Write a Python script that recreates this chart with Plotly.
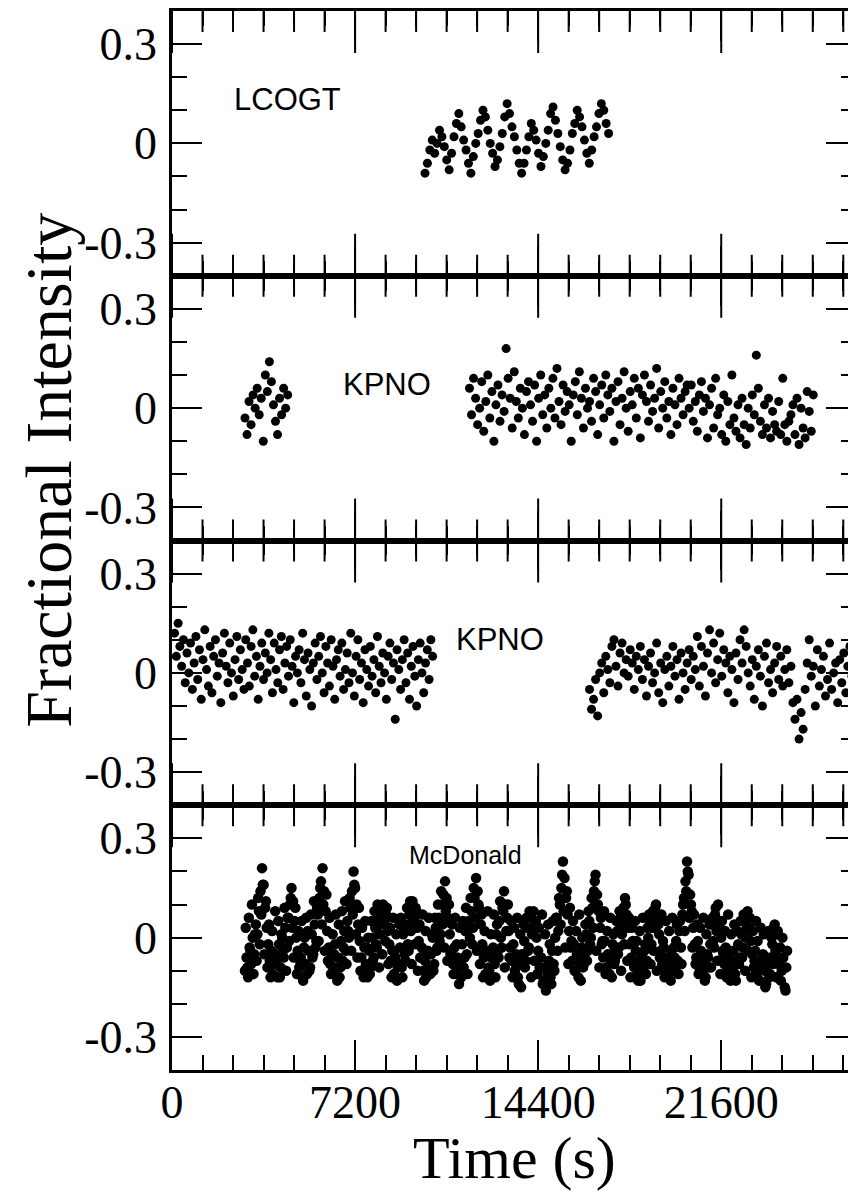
import plotly.graph_objects as go
from plotly.subplots import make_subplots

# ---------------- data (fractional intensity in units of 0.01) ----------------
panel_labels = ["LCOGT", "KPNO", "KPNO", "McDonald"]

# LCOGT run
lcogt_start = 9950
lcogt_cadence = 95
lcogt_vals = [-9, -6, -2, 1, -3, 0, 4, 2, -1, -5, -8, -3, 2, 6, 9, 5, 1, -2, -6, -9,
              -4, 0, 3, 7, 10, 8, 4, 0, -3, -7, -5, -1, 3, 8, 12, 9, 5, 2, -2, -6,
              -9, -6, -2, 2, 6, 4, 1, -3, -7, -4, 0, 4, 9, 11, 7, 3, -1, -5, -8, -6,
              -2, 3, 6, 10, 8, 5, 1, -3, -6, -2, 2, 5, 9, 12, 10, 6, 3]

# KPNO night 1 (two runs)
kpno1a_start = 2870
kpno1a_cadence = 80
kpno1a_vals = [-3, -8, 2, -5, 4, 0, 6, -2, 3, -10, 10, 5, 14, 8, 1, -4, -8, 3, -2, 6, 0, 4]

kpno1b_start = 11700
kpno1b_cadence = 80
kpno1b_vals = [6, -2, 9, 3, -5, 0, 8, -7, 2, 10,
               -3, 5, -10, 1, 7, -4, 4, -1, 18, 9,
               3, -6, 11, 2, -3, 6, 0, -8, 5, 8,
               1, -4, 7, -10, 3, 10, -2, 4, -6, 6,
               0, 9, -3, 12, 2, -5, 7, -1, 5, 1,
               -10, 4, 8, -2, 11, 3, -6, 6, 0, 2,
               -4, 9, 5, -8, 1, 7, -3, 10, 4, -1,
               6, -10, 2, 8, -5, 3, 11, 0, -7, 5,
               1, 9, -3, 6, -9, 4, 10, 2, -4, 7,
               -1, 3, 12, -6, 5, 0, 8, -3, 2, -8,
               6, 1, -5, 9, 3, -2, 5, 7, 0, 7,
               -4, 2, -7, 4, 8, -1, 3, -9, 1, 6,
               -6, 9, -2, 0, -8, 4, -10, 2, -5, 10,
               -3, -7, 1, -9, 3, -5, -11, 0, -6, 4,
               -2, 16, 6, -4, -8, 1, -6, 3, -9, -1,
               -5, -7, 2, -8, 9, -5, -10, -4, -2, 1,
               -8, 3, -11, 0, -6, -9, 5, -1, -7, 4]

# KPNO night 2 (two runs)
kpno2a_start = 100
kpno2a_cadence = 70
kpno2a_vals = [12, 5, 15, 8, 2, 10, -3, 6, 0, 9,
               -5, 3, 11, -2, 7, -8, 4, 13, 1, -4,
               8, -6, 5, 10, -1, 3, -9, 6, 12, 2,
               -3, 9, 0, -7, 4, 11, -2, 7, 1, -5,
               10, 3, -4, 8, 13, -1, 5, -8, 2, 9,
               -2, 6, 0, 12, 4, -6, 9, 1, -3, 7,
               11, -5, 3, 8, -1, 10, 2, -9, 5, 0,
               7, -3, 12, 4, -7, 6, 1, -10, 3, 9,
               -2, 5, 11, 0, -6, 8, 3, -4, 10, 2,
               -8, 4, 7, -1, 9, -5, 1, 6, -3, 12,
               0, -7, 5, 10, -2, 3, -9, 7, 1, -4,
               8, -1, 4, -6, 11, 2, -3, 6, 0, -8,
               5, 9, -2, 3, -14, 7, 1, -5, 4, 10,
               -3, 6, -8, 2, 8, -1, -10, 4, 9, 0,
               -6, 3, 7, -2, 10, 5]

kpno2b_start = 16420
kpno2b_cadence = 80
kpno2b_vals = [-5, -11, -8, -2, -13, 0, 3, -6, 5, 1,
               -3, 8, 10, 2, -4, 6, 9, 0, 4, -1,
               7, 3, -5, 5, 1, 8, -2, 4, -7, 2,
               6, -3, 0, 9, -6, 3, -9, 1, 5, -4,
               2, 8, -1, 4, -8, 6, 0, -5, 3, 7,
               -2, 5, 1, 11, -4, 8, 2, -7, 6, 13,
               0, 9, -3, 4, 12, -1, 7, 3, -6, 5,
               1, -9, 6, -2, 10, 3, 13, 8, 0, -4,
               4, -8, 2, 7, -1, -10, 5, 9, -3, 1,
               -6, 3, 8, -2, 5, -4, 1, 7, -3, 2,
               -9, -14, -8, -20, -12, -17, -5, 3, 10, -1,
               2, -10, 7, -4, 1, 5, -7, -2, 9, -5,
               0, 3, -9, 4, -3, 6, -6, 2, 8, -1,
               -4, 1]

# McDonald run (two interleaved sample sets)
mcd_start = 2870
mcd_cadence = 61
mcd_vals = [-10, -6, -12, -3, -8, 0, -5, 4, 1, 8, 14, 21, 16, 9, 3, -2, -7, -4, -11, -8,
            -5, -12, -2, -9, 0, -6, 3, -3, 6, 10, 15, 11, 5, 0, -4, -9, -6, -12, -3, -8,
            -11, -4, -9, 1, -5, 4, -1, 7, 12, 17, 21, 14, 8, 2, -3, -8, -5, -10, -2, -9,
            -6, -12, -1, -7, 2, -4, 5, 0, 9, 14, 20, 15, 10, 4, -1, -6, -10, -3, -8, -12,
            -4, -9, 0, -6, 3, -3, 6, 1, 8, 10, 5, 7, 2, -2, -7, -4, -11, -6, -13, -8,
            -3, -9, 1, -5, 4, -2, 7, 2, 11, 6, 9, 3, -1, -6, -3, -10, -7, -12, -4, -9,
            -5, 0, -8, 3, -3, 6, 1, 10, 13, 17, 12, 6, 1, -4, -8, -3, -11, -6, -14, -7,
            -2, -9, 2, -5, 5, 0, 8, 3, 12, 18, 14, 9, 4, -2, -6, -11, -4, -9, -13, -6,
            -3, -8, 1, -4, 5, 0, 9, 14, 10, 6, 2, -3, -7, -2, -10, -5, -12, -8, -15, -6,
            -1, -7, 3, -3, 6, 1, 8, 4, 0, -4, -9, -6, -14, -9, -16, -11, -7, -12, -4, -8,
            0, 6, 2, 10, 15, 23, 18, 12, 7, 2, -3, -7, -2, -10, -5, -12, -8, -3, -9, -5,
            1, -4, 5, 0, 9, 14, 19, 13, 8, 3, -2, -6, -1, -9, -5, -11, -7, -2, -8, -4,
            2, -3, 6, 1, 9, 12, 7, 3, -2, -6, -1, -9, -4, -11, -7, -13, -5, -9, -2, -7,
            0, 5, -2, 8, 3, 10, 6, 1, -4, -8, -3, -10, -6, -12, -8, -4, -10, -6, -1, -7,
            2, -3, 7, 12, 17, 23, 19, 13, 8, 3, -2, -6, -1, -9, -4, -11, -7, -12, -5, -9,
            -2, 4, -1, 7, 2, 10, 5, 0, -4, -8, -3, -10, -6, -13, -8, -4, -11, -7, -2, -6,
            1, -3, 5, 0, 8, 3, -1, -5, -9, -4, -11, -7, -13, -9, -5, -10, -14, -8, -12, -6,
            -2, 3, -4, 1, -8, -3, -10, -6, -15, -9]

mcd2_start = 2900
mcd2_cadence = 61
mcd2_vals = [3, -9, 6, -4, 10, -11, 1, -7, 12, -2, 7, 16, -5, 11, -9, 4, -12, 2, -6, 8,
             -8, 5, -12, 1, -4, 9, -10, 6, -1, 12, 3, -6, 9, -11, 2, -7, 5, -13, 0, 6,
             2, -10, 7, -6, 11, -3, 9, -1, 15, 4, 10, -4, 13, -7, 6, -11, 1, -5, 7, -13,
             4, -9, 8, -3, 11, -8, 2, 12, -4, 7, 16, 1, -6, 9, -10, 3, -12, 5, -3, 0,
             -11, 5, -7, 8, -2, 10, -9, 4, -5, 7, -1, 9, -8, 3, -12, 6, -4, 1, -9, 4,
             6, -12, 3, -7, 9, -4, 11, -8, 5, -2, 8, -10, 4, -6, 7, -13, 2, -5, 6, -11,
             1, -10, 6, -4, 10, -1, 14, 4, -3, 8, -7, 10, -5, 4, -11, 6, -2, -9, 3, -12,
             5, -6, 9, -11, 3, 12, -2, 15, 6, -4, 10, -8, 7, -12, 2, -5, 8, -10, 1, -4,
             7, -12, 4, -6, 11, -3, 8, -9, 2, 10, -6, 5, -12, 3, -8, 6, -14, 1, -5, 4,
             -9, 6, -4, 8, -12, 2, -7, 5, -11, 3, -6, 7, -13, 1, -9, 4, -2, -14, 5, -10,
             6, -4, 12, 4, 19, 8, -3, 14, -8, 9, -1, 5, -10, 2, -6, 7, -13, 0, -8, 4,
             -7, 8, -2, 12, 3, 17, -4, 10, -9, 6, -1, 8, -11, 2, -5, 6, -12, 1, -7, 5,
             -5, 8, -10, 4, -2, 10, -7, 6, -12, 3, -8, 5, -1, -13, 2, -9, 6, -4, -11, 3,
             7, -8, 3, -4, 9, -10, 4, -6, 7, -1, -12, 5, -7, 2, -13, 6, -3, -9, 4, -11,
             5, -8, 10, 2, 14, 20, 6, 10, -3, 7, -8, 4, -11, 3, -7, 6, -13, 1, -6, 4,
             -9, 6, -3, 9, -7, 3, -11, 5, -5, 2, -12, 7, -4, 1, -10, 4, -13, 2, -8, 5,
             -6, 7, -10, 3, -4, 6, -12, 2, -7, 5, -1, -13, 3, -9, 1, -15, -6, 2, -11, 0,
             -8, 4, -12, 2, -6, -13, 0, -9, -16, -4]

# axis ticks
x_tickvals = [0, 7200, 14400, 21600]
x_ticktext = ["0", "7200", "14400", "21600"]
x_minor_tickvals = [1200, 2400, 3600, 4800, 6000, 8400, 9600, 10800, 12000, 13200,
                    15600, 16800, 18000, 19200, 20400, 22800, 24000, 25200, 26400]
y_tickvals = [-0.3, 0, 0.3]
y_ticktext = ["-0.3", "0", "0.3"]
y_minor_tickvals = [-0.2, -0.1, 0.1, 0.2]

# label positions (time, intensity)
label_pos = [(4540, 0.133), (8450, 0.071), (12890, 0.101), (11550, 0.249)]

# ---------------- build ----------------
runs = [
    [(lcogt_start, lcogt_cadence, lcogt_vals)],
    [(kpno1a_start, kpno1a_cadence, kpno1a_vals), (kpno1b_start, kpno1b_cadence, kpno1b_vals)],
    [(kpno2a_start, kpno2a_cadence, kpno2a_vals), (kpno2b_start, kpno2b_cadence, kpno2b_vals)],
    [(mcd_start, mcd_cadence, mcd_vals), (mcd2_start, mcd2_cadence, mcd2_vals)],
]
marker_sizes = [9, 9, 9, 10.5]

X_RANGE = [0, 26900]
Y_RANGE = [-0.4, 0.4]

fig = make_subplots(rows=4, cols=1, shared_xaxes=False, vertical_spacing=0)

for r, panel in enumerate(runs, start=1):
    for start, cad, vals in panel:
        t = [start + i * cad for i in range(len(vals))]
        v = [val / 100 for val in vals]
        fig.add_trace(go.Scatter(x=t, y=v, mode="markers",
                                 marker=dict(color="black", size=marker_sizes[r - 1],
                                             line=dict(width=0)),
                                 showlegend=False, hoverinfo="skip"),
                      row=r, col=1)

# time-axis ticks along the panel frame edges (top of the first panel and the
# shared boundaries between panels), placed at the tick values on each axis
for r in range(1, 5):
    edges = []
    if r == 1:
        edges.append(Y_RANGE[1])
    if r < 4:
        edges.append(Y_RANGE[0])
    for edge in edges:
        for vals, size in ((x_tickvals, 60), (x_minor_tickvals, 30)):
            fig.add_trace(go.Scatter(x=vals, y=[edge] * len(vals), mode="markers",
                                     marker=dict(symbol="line-ns", size=size, color="black",
                                                 line=dict(width=2, color="black")),
                                     cliponaxis=False, showlegend=False, hoverinfo="skip"),
                          row=r, col=1)

tick_font = dict(family="Liberation Serif", size=46, color="black")


def axis_style(rng, vals, text, length, labels, standoff):
    d = dict(range=rng, automargin=False, fixedrange=True,
             showline=True, linecolor="black", linewidth=2.5, mirror=False,
             ticks="inside", ticklen=length, tickwidth=2, tickcolor="black",
             tickmode="array", tickvals=vals,
             showgrid=False, zeroline=False, showticklabels=labels)
    if labels:
        d.update(ticktext=text, tickfont=tick_font, ticklabelstandoff=standoff)
    return d


layout_axes = {}
for r in range(1, 5):
    sx = "" if r == 1 else str(r)
    layout_axes["xaxis" + sx] = dict(axis_style(X_RANGE, x_tickvals, x_ticktext, 30, r == 4, -10),
                                     anchor="y" + sx, side="bottom")
    layout_axes["yaxis" + sx] = dict(axis_style(Y_RANGE, y_tickvals, y_ticktext, 30, True, 3),
                                     anchor="x" + sx, side="left")
    frame = [
        ("xaxis", r + 4, X_RANGE, x_minor_tickvals, 15, "bottom"),
        ("xaxis", r + 8, X_RANGE, x_tickvals, 30, "top"),
        ("xaxis", r + 12, X_RANGE, x_minor_tickvals, 15, "top"),
        ("yaxis", r + 4, Y_RANGE, y_minor_tickvals, 15, "left"),
        ("yaxis", r + 8, Y_RANGE, y_tickvals, 30, "right"),
        ("yaxis", r + 12, Y_RANGE, y_minor_tickvals, 15, "right"),
    ]
    for kind, n, rng, vals, length, side in frame:
        base = ("x" if kind == "xaxis" else "y") + sx
        other = ("y" if kind == "xaxis" else "x") + sx
        layout_axes[kind + str(n)] = dict(axis_style(rng, vals, None, length, False, 0),
                                          overlaying=base, anchor=other, side=side)
        if kind == "xaxis":
            fig.add_trace(go.Scatter(x=[], y=[], xaxis="x" + str(n), yaxis="y" + sx,
                                     showlegend=False, hoverinfo="skip"))
        else:
            fig.add_trace(go.Scatter(x=[], y=[], xaxis="x" + sx, yaxis="y" + str(n),
                                     showlegend=False, hoverinfo="skip"))

fig.update_layout(**layout_axes)

xrefs = ["x", "x2", "x3", "x4"]
yrefs = ["y", "y2", "y3", "y4"]
sizes = [31, 31, 31, 25]
for i, (lab, (tx, ty)) in enumerate(zip(panel_labels, label_pos)):
    fig.add_annotation(x=tx, y=ty, xref=xrefs[i], yref=yrefs[i], text=lab, showarrow=False,
                       font=dict(family="Liberation Sans", size=sizes[i], color="black"),
                       xanchor="center", yanchor="middle")

fig.add_annotation(x=-0.181, y=0.566, xref="paper", yref="paper", text="Fractional Intensity",
                   textangle=-90, showarrow=False, xanchor="center", yanchor="middle",
                   font=dict(family="Liberation Serif", size=66, color="black"))
fig.add_annotation(x=0.5, y=-0.083, xref="paper", yref="paper", text="Time (s)",
                   showarrow=False, xanchor="center", yanchor="middle",
                   font=dict(family="Liberation Serif", size=60, color="black"))

# page body has an 8px margin: the figure is sized/offset so the plot lands
# where the reference has it
fig.update_layout(width=848, height=1186, template="none",
                  margin=dict(l=164, r=0, t=3, b=124, autoexpand=False),
                  paper_bgcolor="white", plot_bgcolor="rgba(0,0,0,0)")

fig.write_html("out.html")
